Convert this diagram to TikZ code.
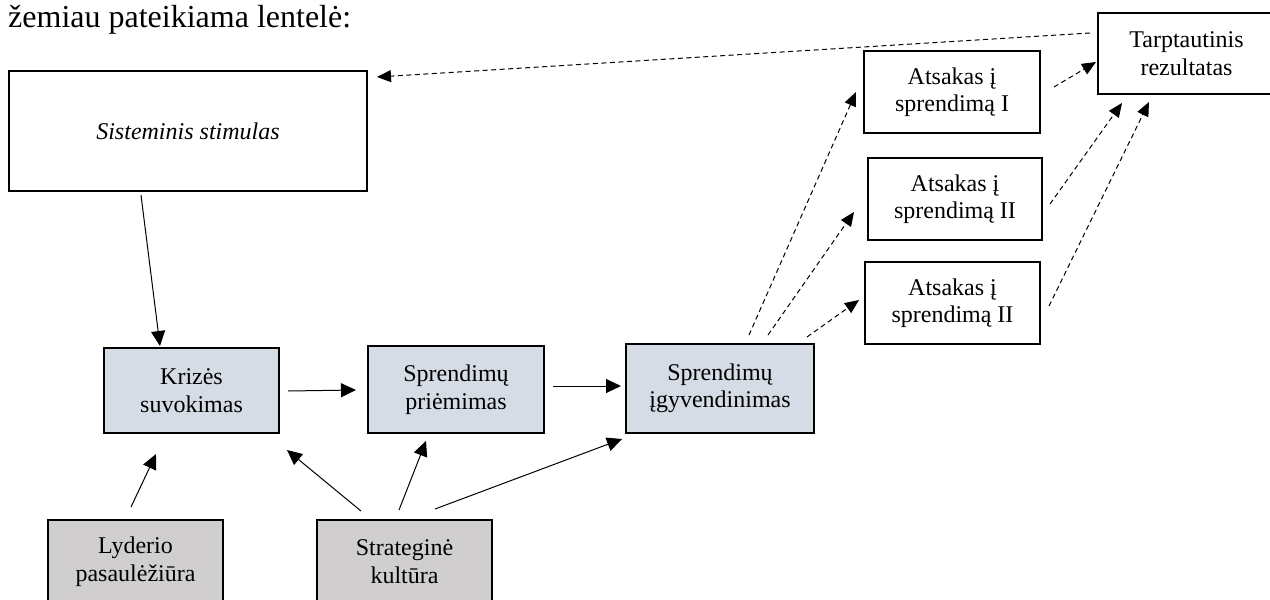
\documentclass[tikz,border=0pt]{standalone}
\usepackage{fontspec}
\setmainfont{Liberation Serif}
\usetikzlibrary{arrows.meta}
\definecolor{boxblue}{HTML}{D6DCE5}
\definecolor{boxgray}{HTML}{D0CECE}
\begin{document}
\begin{tikzpicture}[x=1pt,y=-1pt,
  box/.style={draw=black, line width=2pt, rectangle, anchor=north west, inner sep=0pt,
    align=center, font=\fontsize{24}{27.5}\selectfont},
  bluebox/.style={box, fill=boxblue},
  graybox/.style={box, fill=boxgray},
  arr/.style={line width=1pt, -{Triangle[length=15pt,width=14pt]}},
  darr/.style={line width=1pt, dash pattern=on 5pt off 3.5pt, -{Triangle[length=14pt,width=12pt]}}
]
\useasboundingbox (0,0) rectangle (1270,600);
\node[anchor=base west, inner sep=0pt, font=\fontsize{32}{38}\selectfont] (title) at (8,27) {žemiau pateikiama lentelė:};

\node[box, minimum width=358, minimum height=120] (sis) at (8,70) {\itshape Sisteminis stimulas};
\node[bluebox, minimum width=175, minimum height=85] (kriz) at (103,347) {Krizės\\suvokimas};
\node[bluebox, minimum width=176, minimum height=87] (spr) at (367,345) {Sprendimų\\priėmimas};
\node[bluebox, minimum width=188, minimum height=89] (igy) at (625,343) {Sprendimų\\įgyvendinimas};
\node[graybox, minimum width=175, minimum height=83] (lyd) at (47,519) {Lyderio\\pasaulėžiūra};
\node[graybox, minimum width=175, minimum height=83] (str) at (316,519) {Strateginė\\kultūra};
\node[box, minimum width=176, minimum height=82] (at1) at (863,50) {Atsakas į\\sprendimą I};
\node[box, minimum width=174, minimum height=82] (at2) at (867,157) {Atsakas į\\sprendimą II};
\node[box, minimum width=175, minimum height=82] (at3) at (864,261) {Atsakas į\\sprendimą II};
\node[box, minimum width=177, minimum height=81] (tar) at (1097,12) {Tarptautinis\\rezultatas};

% solid arrows
\draw[arr] ([shift={(-47,3)}]sis.south) -- ([shift={(-31.5,-1)}]kriz.north);
\draw[arr] ([shift={(8,0.5)}]kriz.east) -- ([shift={(-11,0.5)}]spr.west);
\draw[arr] ([shift={(8,-3.5)}]spr.east) -- ([shift={(-4,-2.5)}]igy.west);
\draw[arr] ([shift={(-4.5,-12)}]lyd.north) -- ([shift={(-35.5,20)}]kriz.south);
\draw[arr] ([shift={(-43.5,-8)}]str.north) -- ([shift={(7,16)}]kriz.south east);
\draw[arr] ([shift={(-5.5,-9)}]str.north) -- ([shift={(-30,7)}]spr.south);
\draw[arr] ([shift={(30.5,-10)}]str.north) -- ([shift={(-3,5)}]igy.south west);

% dashed arrows
\draw[darr] ([shift={(-7,-20.5)}]tar.west) -- ([shift={(9,7)}]sis.north east);
\draw[darr] ([shift={(29,-8)}]igy.north) -- ([shift={(-7,0)}]at1.west);
\draw[darr] ([shift={(48,-8)}]igy.north) -- ([shift={(-13,13)}]at2.west);
\draw[darr] ([shift={(87,-6)}]igy.north) -- ([shift={(-5,-3)}]at3.west);
\draw[darr] ([shift={(13,-5)}]at1.east) -- ([shift={(-1,8.5)}]tar.west);
\draw[darr] ([shift={(7,5)}]at2.east) -- ([shift={(-64.5,8)}]tar.south);
\draw[darr] ([shift={(8,3)}]at3.east) -- ([shift={(-37.5,7)}]tar.south);
\end{tikzpicture}
\end{document}
